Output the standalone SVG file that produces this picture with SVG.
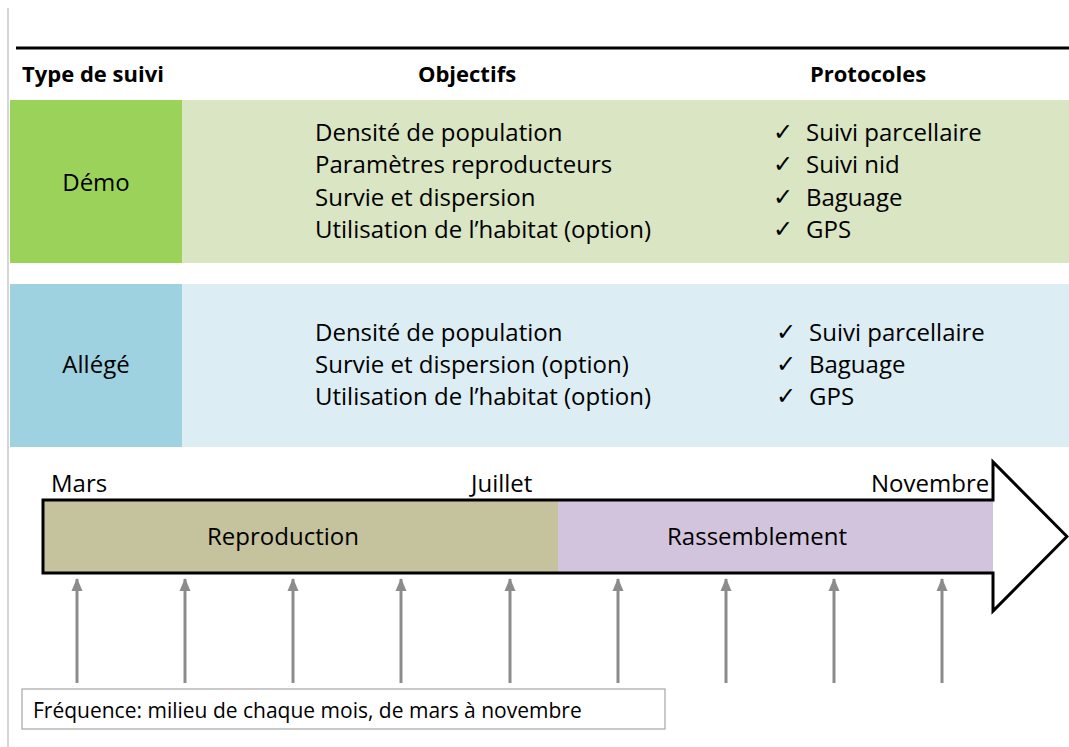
<svg xmlns="http://www.w3.org/2000/svg" width="1069" height="747" viewBox="0 0 1069 747">
<defs>
<marker id="ah" markerWidth="13" markerHeight="12" viewBox="0 0 13 12" refX="12" refY="6" orient="auto" markerUnits="userSpaceOnUse">
<path d="M13,6 L0,0.5 L0,11.5 Z" fill="#8c8c8c"/>
</marker>
</defs>
<style>
text{font-family:"Open Sans","Liberation Sans",sans-serif;fill:#000}
.t{font-size:24px}
.h{font-size:22px;font-weight:bold}
.ck{font-family:"DejaVu Sans",sans-serif;font-size:24px}
.m{text-anchor:middle}
.up{stroke:#8c8c8c;stroke-width:3;fill:none}
</style>
<rect x="0" y="0" width="1069" height="747" fill="#fff"/>
<line x1="8" y1="8" x2="8" y2="747" stroke="#c8c8c8" stroke-width="1.5"/>
<line x1="16" y1="48" x2="1069" y2="48" stroke="#000" stroke-width="3"/>
<g id="header">
<text class="h" x="22" y="82">Type de suivi</text>
<text class="h m" x="467" y="82">Objectifs</text>
<text class="h m" x="868" y="82">Protocoles</text>
</g>
<g id="demo">
<rect x="10" y="100" width="172" height="163" fill="#9BD35A"/>
<rect x="182" y="100" width="887" height="163" fill="#D9E5C3"/>
<text class="t m" x="96" y="191">Démo</text>
<text class="t" x="315" y="141">Densité de population</text>
<text class="t" x="315" y="173">Paramètres reproducteurs</text>
<text class="t" x="315" y="206">Survie et dispersion</text>
<text class="t" x="315" y="238">Utilisation de l’habitat (option)</text>
<text class="ck" x="773" y="140">✓</text>
<text class="ck" x="773" y="172">✓</text>
<text class="ck" x="773" y="205">✓</text>
<text class="ck" x="773" y="237">✓</text>
<text class="t" x="806" y="141">Suivi parcellaire</text>
<text class="t" x="806" y="173">Suivi nid</text>
<text class="t" x="806" y="206">Baguage</text>
<text class="t" x="806" y="238">GPS</text>
</g>
<g id="allege">
<rect x="10" y="284" width="172" height="163" fill="#9ED2E0"/>
<rect x="182" y="284" width="887" height="163" fill="#DCEDF4"/>
<text class="t m" x="96" y="373">Allégé</text>
<text class="t" x="315" y="341">Densité de population</text>
<text class="t" x="315" y="373">Survie et dispersion (option)</text>
<text class="t" x="315" y="405">Utilisation de l’habitat (option)</text>
<text class="ck" x="776" y="340">✓</text>
<text class="ck" x="776" y="372">✓</text>
<text class="ck" x="776" y="404">✓</text>
<text class="t" x="809" y="341">Suivi parcellaire</text>
<text class="t" x="809" y="373">Baguage</text>
<text class="t" x="809" y="405">GPS</text>
</g>
<g id="timeline">
<rect x="43" y="500" width="515" height="73" fill="#C5C29E"/>
<rect x="558" y="500" width="435" height="73" fill="#D2C4DC"/>
<polygon points="43,500 993,500 993,462 1067,536.5 993,611 993,573 43,573" fill="none" stroke="#000" stroke-width="3" stroke-linejoin="miter"/>
<text class="t m" x="283" y="545">Reproduction</text>
<text class="t m" x="757" y="545">Rassemblement</text>
<text class="t" x="51" y="492">Mars</text>
<text class="t" x="471" y="492">Juillet</text>
<text class="t" x="871" y="492">Novembre</text>
</g>
<g id="connectors">
<line class="up" x1="77" y1="683" x2="77" y2="579" marker-end="url(#ah)"/>
<line class="up" x1="185" y1="683" x2="185" y2="579" marker-end="url(#ah)"/>
<line class="up" x1="293" y1="683" x2="293" y2="579" marker-end="url(#ah)"/>
<line class="up" x1="401" y1="683" x2="401" y2="579" marker-end="url(#ah)"/>
<line class="up" x1="510" y1="683" x2="510" y2="579" marker-end="url(#ah)"/>
<line class="up" x1="618" y1="683" x2="618" y2="579" marker-end="url(#ah)"/>
<line class="up" x1="726" y1="683" x2="726" y2="579" marker-end="url(#ah)"/>
<line class="up" x1="834" y1="683" x2="834" y2="579" marker-end="url(#ah)"/>
<line class="up" x1="942" y1="683" x2="942" y2="579" marker-end="url(#ah)"/>
</g>
<g id="frequence">
<rect x="22" y="689" width="643" height="40" fill="#fff" stroke="#a6a6a6" stroke-width="1.2"/>
<text x="33" y="718" style="font-size:21px">Fréquence: milieu de chaque mois, de mars à novembre</text>
</g>
</svg>
